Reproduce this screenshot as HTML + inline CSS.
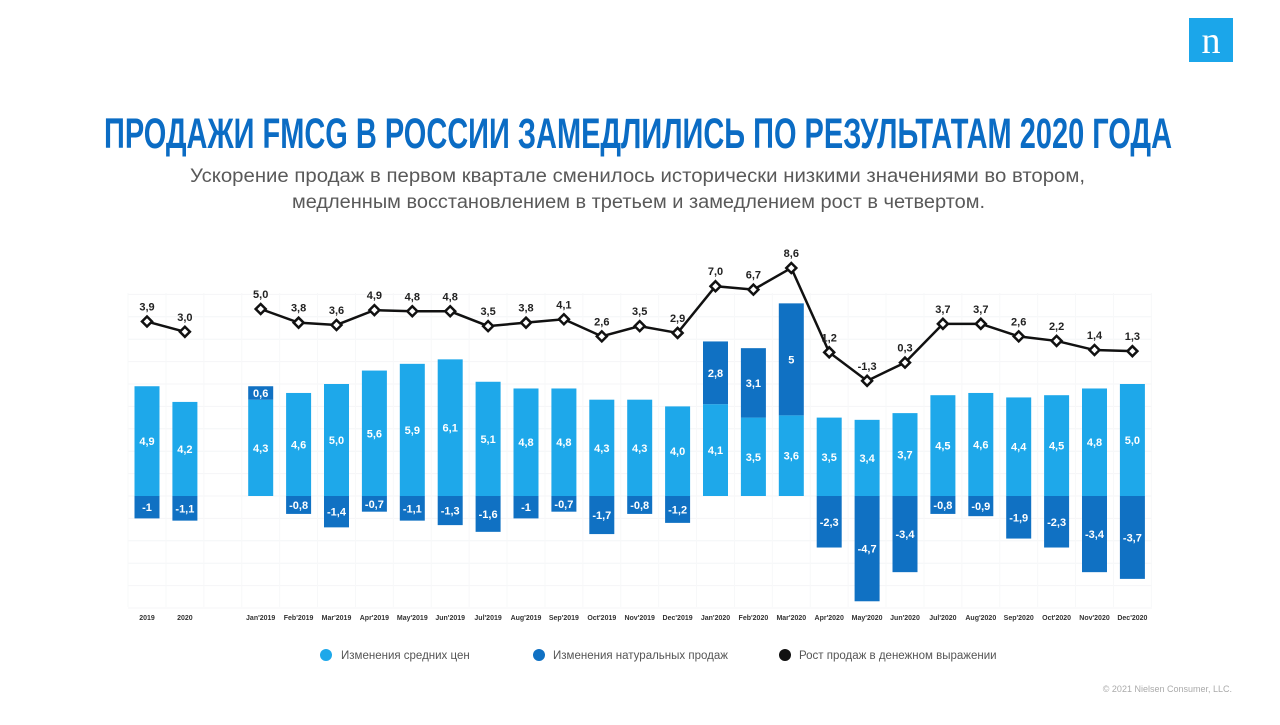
<!DOCTYPE html>
<html><head><meta charset="utf-8">
<style>
html,body{margin:0;padding:0;background:#fff;}
body{width:1280px;height:720px;position:relative;overflow:hidden;font-family:"Liberation Sans","DejaVu Sans",sans-serif;}
</style></head>
<body>
<svg width="1280" height="720" viewBox="0 0 1280 720" xmlns="http://www.w3.org/2000/svg">
  <g>
    <rect x="1189" y="18" width="44" height="44" fill="#1ba6ea"/>
    <text x="1211" y="53" text-anchor="middle" font-family="Liberation Serif, serif" font-size="38" fill="#fff">n</text>
  </g>
  <text x="104" y="148" textLength="1068" lengthAdjust="spacingAndGlyphs" font-family="Liberation Sans Narrow, Liberation Sans, sans-serif" font-weight="bold" font-size="43" fill="#0b6cc4">ПРОДАЖИ FMCG В РОССИИ ЗАМЕДЛИЛИСЬ ПО РЕЗУЛЬТАТАМ 2020 ГОДА</text>
  <text x="190" y="182" textLength="895" lengthAdjust="spacingAndGlyphs" font-size="19" fill="#595959">Ускорение продаж в первом квартале сменилось исторически низкими значениями во втором,</text>
  <text x="292" y="208" textLength="693" lengthAdjust="spacingAndGlyphs" font-size="19" fill="#595959">медленным восстановлением в третьем и замедлением рост в четвертом.</text>
  <g id="grid"></g>
  <g id="bars"></g>
  <g id="line"></g>
  <g id="xlabels"></g>
  <g font-size="11.5" fill="#555">
    <g><circle cx="326" cy="655" r="6" fill="#1ea8ea"/><text x="341" y="659">Изменения средних цен</text></g>
    <g><circle cx="539" cy="655" r="6" fill="#1071c3"/><text x="553" y="659">Изменения натуральных продаж</text></g>
    <g><circle cx="785" cy="655" r="6" fill="#111"/><text x="799" y="659">Рост продаж в денежном выражении</text></g>
  </g>
  <text x="1232" y="692" text-anchor="end" font-size="9" fill="#aaa">© 2021 Nielsen Consumer, LLC.</text>
</svg>
<script>
const categories = ["2019","2020",null,"Jan'2019","Feb'2019","Mar'2019","Apr'2019","May'2019","Jun'2019","Jul'2019","Aug'2019","Sep'2019","Oct'2019","Nov'2019","Dec'2019","Jan'2020","Feb'2020","Mar'2020","Apr'2020","May'2020","Jun'2020","Jul'2020","Aug'2020","Sep'2020","Oct'2020","Nov'2020","Dec'2020"];
const priceChange = [4.9,4.2,null,4.3,4.6,5.0,5.6,5.9,6.1,5.1,4.8,4.8,4.3,4.3,4.0,4.1,3.5,3.6,3.5,3.4,3.7,4.5,4.6,4.4,4.5,4.8,5.0];
const volumeChange = [-1,-1.1,null,0.6,-0.8,-1.4,-0.7,-1.1,-1.3,-1.6,-1,-0.7,-1.7,-0.8,-1.2,2.8,3.1,5,-2.3,-4.7,-3.4,-0.8,-0.9,-1.9,-2.3,-3.4,-3.7];
const salesGrowth = [3.9,3.0,null,5.0,3.8,3.6,4.9,4.8,4.8,3.5,3.8,4.1,2.6,3.5,2.9,7.0,6.7,8.6,1.2,-1.3,0.3,3.7,3.7,2.6,2.2,1.4,1.3];

const NS="http://www.w3.org/2000/svg";
const x0=147, step=37.9, bw=25;
const xPos=i=>x0+i*step;
const barZero=496, barK=22.4;
const yBar=v=>barZero-v*barK;
const lineZero=366, lineK=11.4;
const yLine=v=>lineZero-v*lineK;
const fmt1=v=>v.toFixed(1).replace('.',',');
const fmtRaw=v=>String(v).replace('.',',');
function mk(tag,attrs,parent){const e=document.createElementNS(NS,tag);for(const k in attrs)e.setAttribute(k,attrs[k]);parent.appendChild(e);return e;}
const grid=document.getElementById('grid'),bars=document.getElementById('bars'),line=document.getElementById('line'),xl=document.getElementById('xlabels');
for(let k=-5;k<=9;k++){const y=barZero-k*barK;if(y<290||y>610)continue;
  const l=mk('line',{x1:128,x2:1152,y1:y,y2:y,stroke:'#f4f5f7','stroke-width':1},grid);
  
  }
for(let i=0;i<=categories.length;i++){const x=x0-step/2+i*step;
  const l=mk('line',{x1:x,x2:x,y1:293,y2:607,stroke:'#f7f8f9','stroke-width':1},grid);
  
  }
categories.forEach((c,i)=>{
  if(c===null)return;
  const x=xPos(i)-bw/2, p=priceChange[i], v=volumeChange[i];
  const r=mk('rect',{x:x,y:yBar(p),width:bw,height:p*barK,fill:'#1ea8ea'},bars);
  
  
  const t=mk('text',{x:xPos(i),y:(yBar(p)+barZero)/2+4,'text-anchor':'middle','font-size':11,'font-weight':'bold',fill:'#fff'},bars);
  t.textContent=fmt1(p);
  
  
  let y1,y2;
  if(v>=0){y1=yBar(p+v);y2=yBar(p);}else{y1=barZero;y2=yBar(v);}
  const r2=mk('rect',{x:x,y:y1,width:bw,height:y2-y1,fill:'#1071c3'},bars);
  
  
  const t2=mk('text',{x:xPos(i),y:(y1+y2)/2+4,'text-anchor':'middle','font-size':11,'font-weight':'bold',fill:'#fff'},bars);
  t2.textContent=fmtRaw(v);
  
  
  const xt=mk('text',{x:xPos(i),y:620,'text-anchor':'middle','font-size':7,'font-weight':'bold',fill:'#333'},xl);
  xt.textContent=c;
  
  
});
let seg=[];
const segs=[];
salesGrowth.forEach((v,i)=>{if(v===null){if(seg.length)segs.push(seg);seg=[];}else seg.push([xPos(i),yLine(v)]);});
if(seg.length)segs.push(seg);
segs.forEach(s=>{
  const p=mk('polyline',{points:s.map(a=>a.join(',')).join(' '),fill:'none',stroke:'#111','stroke-width':2.5},line);
  
  
});
salesGrowth.forEach((v,i)=>{
  if(v===null)return;
  const cx=xPos(i),cy=yLine(v);
  const d=mk('path',{d:`M${cx} ${cy-5}L${cx+5} ${cy}L${cx} ${cy+5}L${cx-5} ${cy}Z`,fill:'#fff',stroke:'#111','stroke-width':2.5},line);
  
  
  const t=mk('text',{x:cx,y:cy-11,'text-anchor':'middle','font-size':11,'font-weight':'bold',fill:'#222'},line);
  t.textContent=fmt1(v);
  
  
});
</script>
</body></html>
